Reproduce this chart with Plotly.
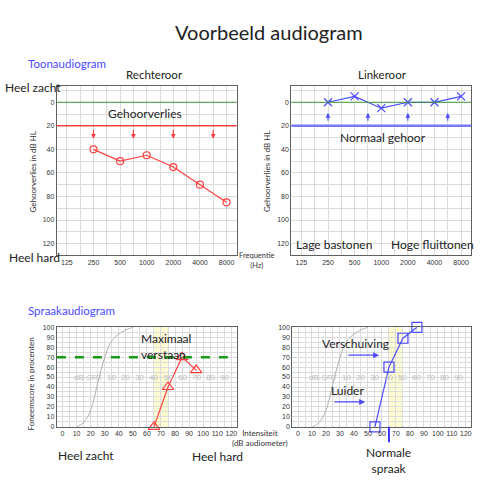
import plotly.graph_objects as go

# ---------------- data ----------------
freq_labels = ["125", "250", "500", "1000", "2000", "4000", "8000"]
freq_idx = [0, 1, 2, 3, 4, 5, 6]
right_freq_idx = [1, 2, 3, 4, 5, 6]
right_ear_db = [40, 50, 45, 55, 70, 85]
left_freq_idx = [1, 2, 3, 4, 5, 6]
left_ear_db = [0, -5, 5, 0, 0, -5]
loss_arrow_x = [1, 2.5, 4, 5.5]
db_ticks = [0, 20, 40, 60, 80, 100, 120]
normal_limit = 20

ref_curve_x = [10, 13, 16, 19, 22, 25, 28, 31, 34, 38, 42, 46, 50]
ref_curve_y = [0, 2, 6, 13, 26, 44, 60, 74, 84, 91, 95, 98, 100]
speech_ticks = [0, 10, 20, 30, 40, 50, 60, 70, 80, 90, 100, 110, 120]
score_ticks = [0, 10, 20, 30, 40, 50, 60, 70, 80, 90, 100]
srt_labels = ["10", "20", "30", "40", "50", "60", "70", "80", "90"]
srt_x = [35, 45, 55, 65, 75, 85, 95, 105, 115]
right_speech_x = [65, 75, 85, 95]
right_speech_y = [0, 40, 70, 57]
left_speech_x = [55, 65, 75, 85]
left_speech_y = [0, 60, 89, 100]
max_score = 70
normal_band = [65, 75]

RED = "#ff4040"
BLUE = "#4a4aff"
GRID = "#dcdcdc"
FRAME = "#606060"
TXT = "#222222"
FONT = "Lato"
BODY = 11.5

fig = go.Figure()

# top-left: right ear
fig.add_trace(go.Scatter(x=right_freq_idx, y=right_ear_db, mode="lines+markers",
                         line=dict(color=RED, width=1.2),
                         marker=dict(symbol="circle-open", size=7, color=RED, line=dict(width=1.2)),
                         xaxis="x", yaxis="y", showlegend=False))
# top-right: left ear
fig.add_trace(go.Scatter(x=left_freq_idx, y=left_ear_db, mode="lines+markers",
                         line=dict(color=BLUE, width=1.2),
                         marker=dict(symbol="x-thin-open", size=8, color=BLUE, line=dict(width=1.2, color=BLUE)),
                         xaxis="x2", yaxis="y2", showlegend=False))
# bottom ref curves
for xa, ya in (("x3", "y3"), ("x4", "y4")):
    fig.add_trace(go.Scatter(x=ref_curve_x, y=ref_curve_y, mode="lines",
                             line=dict(color="#b0b0b0", width=1, shape="spline"),
                             xaxis=xa, yaxis=ya, showlegend=False))
fig.add_trace(go.Scatter(x=right_speech_x, y=right_speech_y, mode="lines+markers",
                         line=dict(color=RED, width=1.2),
                         marker=dict(symbol="triangle-up-open", size=10, color=RED, line=dict(width=1.2)),
                         xaxis="x3", yaxis="y3", showlegend=False, cliponaxis=False))
fig.add_trace(go.Scatter(x=left_speech_x, y=left_speech_y, mode="lines+markers",
                         line=dict(color=BLUE, width=1.2),
                         marker=dict(symbol="square-open", size=10, color=BLUE, line=dict(width=1.2)),
                         xaxis="x4", yaxis="y4", showlegend=False, cliponaxis=False))

shapes = []
# threshold lines
shapes.append(dict(type="line", xref="x domain", yref="y", x0=0, x1=1, y0=0, y1=0,
                   line=dict(color="#3c9a3c", width=1)))
shapes.append(dict(type="line", xref="x domain", yref="y", x0=0, x1=1, y0=normal_limit, y1=normal_limit,
                   line=dict(color=RED, width=1.5)))
shapes.append(dict(type="line", xref="x2 domain", yref="y2", x0=0, x1=1, y0=0, y1=0,
                   line=dict(color="#3c9a3c", width=1)))
shapes.append(dict(type="line", xref="x2 domain", yref="y2", x0=0, x1=1, y0=normal_limit, y1=normal_limit,
                   line=dict(color="#7878ff", width=2.5)))
# yellow bands
for xa, ya in (("x3", "y3 domain"), ("x4", "y4 domain")):
    shapes.append(dict(type="rect", xref=xa, yref=ya, x0=normal_band[0], x1=normal_band[1], y0=0, y1=1,
                       fillcolor="#fdfbd0", line=dict(width=0), layer="below"))
# max score dashed line
shapes.append(dict(type="line", xref="x3 domain", yref="y3", x0=0, x1=1, y0=max_score, y1=max_score,
                   line=dict(color="#1a9a1a", width=2.5, dash="dash")))
fig.update_layout(shapes=shapes)

ann = []
def txt(x, y, s, size=BODY, color=TXT, xanchor="center", **kw):
    ann.append(dict(x=x / 500, y=1 - y / 486, xref="paper", yref="paper", text=s, showarrow=False,
                    font=dict(family=FONT, size=size, color=color), xanchor=xanchor, yanchor="middle", **kw))

txt(270, 28, "Voorbeeld audiogram", size=20)
txt(26, 60, "Toonaudiogram", size=11.5, color="#4a4aff", xanchor="left")
txt(26, 311, "Spraakaudiogram", size=11.5, color="#4a4aff", xanchor="left")
txt(155, 72, "Rechteroor", size=11.5)
txt(383, 72, "Linkeroor", size=11.5)
txt(3, 85, "Heel zacht", size=12, xanchor="left")
txt(7, 257, "Heel hard", size=12, xanchor="left")
txt(145, 111, "Gehoorverlies", size=12)
txt(384, 135, "Normaal gehoor", size=12)
txt(335, 244, "Lage bastonen", size=12)
txt(433, 244, "Hoge fluittonen", size=12)
txt(258, 260, "Frequentie<br>(Hz)", size=7.5, color="#333")
txt(261, 440, "Intensiteit<br>(dB audiometer)", size=8, color="#333")
txt(33, 170, "Gehoorverlies in dB HL", size=8, color="#333", textangle=-90)
txt(267, 170, "Gehoorverlies in dB HL", size=8, color="#333", textangle=-90)
txt(32, 385, "Foneemscore in procenten", size=8, color="#333", textangle=-90)
txt(139, 347, "Maximaal<br>verstaan", size=12, xanchor="left", align="left")
txt(86, 458, "Heel zacht", size=12)
txt(218, 459, "Heel hard", size=12)
txt(356, 344, "Verschuiving", size=12)
txt(348, 392, "Luider", size=12)
txt(389, 463, "Normale<br>spraak", size=12)

# arrows in tone audiogram
for xv in loss_arrow_x:
    ann.append(dict(x=xv, y=31, ax=xv, ay=22, xref="x", yref="y", axref="x", ayref="y", text="",
                    showarrow=True, arrowhead=2, arrowsize=0.8, arrowwidth=1.2, arrowcolor=RED))
    ann.append(dict(x=xv, y=9, ax=xv, ay=17, xref="x2", yref="y2", axref="x2", ayref="y2", text="",
                    showarrow=True, arrowhead=2, arrowsize=0.8, arrowwidth=1.2, arrowcolor=BLUE))
# arrows in speech audiogram
ann.append(dict(x=58, y=72, ax=35, ay=72, xref="x4", yref="y4", axref="x4", ayref="y4", text="",
                showarrow=True, arrowhead=2, arrowsize=1, arrowwidth=1.2, arrowcolor=BLUE))
ann.append(dict(x=48, y=25, ax=25, ay=25, xref="x4", yref="y4", axref="x4", ayref="y4", text="",
                showarrow=True, arrowhead=2, arrowsize=1, arrowwidth=1.2, arrowcolor=BLUE))
ann.append(dict(x=normal_band[0], y=0, ax=normal_band[0], ay=-17, xref="x4", yref="y4", axref="x4", ayref="y4",
                text="", showarrow=True, arrowhead=0, arrowwidth=1.8, arrowcolor="#2a2aff"))
# SRT scale labels
for xa, ya in (("x3", "y3"), ("x4", "y4")):
    ann.append(dict(x=18, y=50, xref=xa, yref=ya, text="dB-SRT", showarrow=False,
                    font=dict(family="Liberation Sans", size=8, color="#bdbdbd")))
    for sx, sl in zip(srt_x, srt_labels):
        ann.append(dict(x=sx, y=50, xref=xa, yref=ya, text=sl, showarrow=False,
                        font=dict(family="Liberation Sans", size=8, color="#bdbdbd")))
fig.update_layout(annotations=ann)

tickfont = dict(family="Liberation Sans", size=7, color="#333")
top_x = dict(range=[-0.375, 6.375], tickvals=freq_idx, ticktext=freq_labels, tickfont=tickfont,
             showgrid=True, gridcolor=GRID, gridwidth=1, zeroline=False, showline=True, mirror=True,
             linecolor=FRAME, linewidth=1.2, ticks="",
             minor=dict(tickvals=[i + 0.5 for i in freq_idx[:-1]], showgrid=True, gridcolor=GRID))
top_y = dict(range=[130, -14], tickvals=db_ticks, tickfont=tickfont, showgrid=True, gridcolor=GRID,
             zeroline=False, showline=True, mirror=True, linecolor=FRAME, linewidth=1.2, ticks="",
             minor=dict(dtick=10, tick0=10, showgrid=True, gridcolor=GRID))
bot_x = dict(range=[-4, 123.7], tickvals=speech_ticks, tickfont=tickfont, showgrid=True, gridcolor=GRID,
             zeroline=False, showline=True, mirror=True, linecolor=FRAME, linewidth=1.2, ticks="",
             minor=dict(dtick=5, tick0=5, showgrid=True, gridcolor=GRID))
bot_y = dict(range=[0, 100], tickvals=score_ticks, tickfont=tickfont, showgrid=True, gridcolor=GRID,
             zeroline=False, showline=True, mirror=True, linecolor=FRAME, linewidth=1.2, ticks="",
             minor=dict(dtick=5, tick0=5, showgrid=True, gridcolor=GRID))

yt = [1 - 255 / 486, 1 - 83 / 486]
yb = [1 - 429 / 486, 1 - 328 / 486]
fig.update_layout(
    width=500, height=486, margin=dict(l=0, r=0, t=0, b=0),
    paper_bgcolor="white", plot_bgcolor="white",
    xaxis=dict(top_x, domain=[57 / 500, 237 / 500], anchor="y"),
    yaxis=dict(top_y, domain=yt, anchor="x"),
    xaxis2=dict(top_x, domain=[292 / 500, 472 / 500], anchor="y2"),
    yaxis2=dict(top_y, domain=yt, anchor="x2"),
    xaxis3=dict(bot_x, domain=[57 / 500, 237 / 500], anchor="y3"),
    yaxis3=dict(bot_y, domain=yb, anchor="x3"),
    xaxis4=dict(bot_x, domain=[293 / 500, 472 / 500], anchor="y4"),
    yaxis4=dict(bot_y, domain=yb, anchor="x4"),
)

fig.write_html("out.html")
